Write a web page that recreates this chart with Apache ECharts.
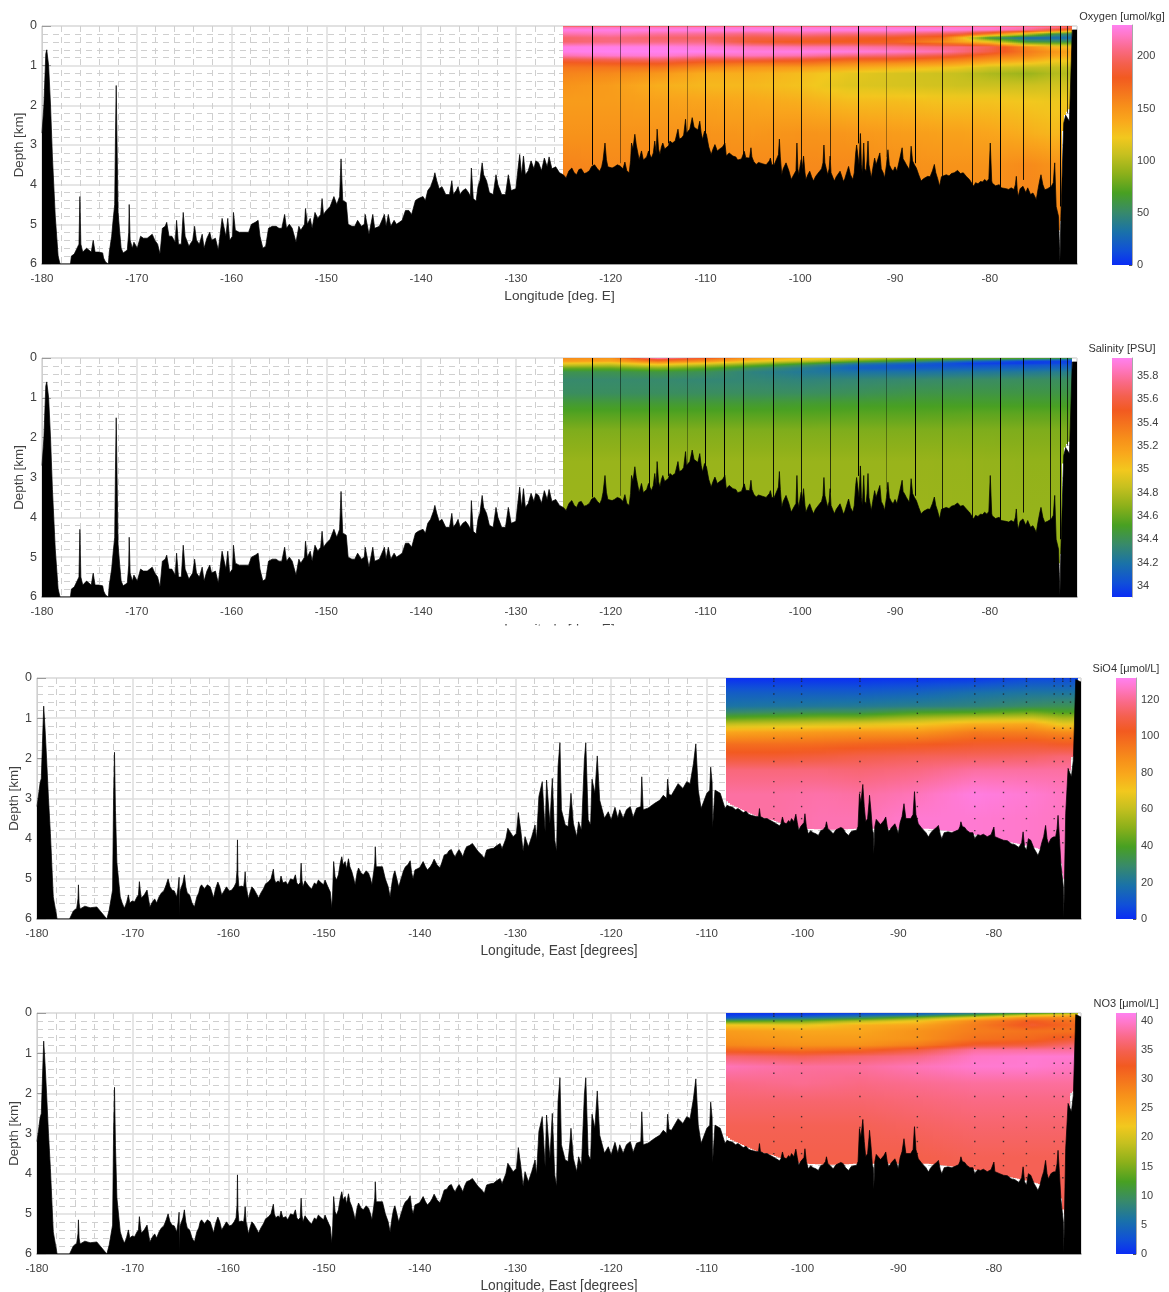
<!DOCTYPE html>
<html><head><meta charset="utf-8">
<style>html,body{margin:0;padding:0;background:#fff}#c{width:1169px;height:1292px}</style>
<script src="https://cdn.jsdelivr.net/npm/echarts@6/dist/echarts.min.js"></script>
</head><body><div id="c"></div>
<script>
// ---------- colour ramp
const rampPos = [0,.06,.14,.22,.30,.38,.46,.53,.60,.66,.78,.84,.90,.96,1];
const rampCol = ['#0a2cf5','#1050d8','#1a72a8','#388a6a','#48a022','#8cb01a','#c6c01f','#f2c81e','#f9a81c','#f7901a','#f25a20','#f4604e','#fa6a88','#ff78c8','#ff80f0'];

// ---------- bathymetry, panels 1-2: [longitude, depth km]
const bathyA = [[-180,2.7],[-179.8,2.0],[-179.6,.7],[-179.5,.6],[-179.3,1.0],[-179.1,2.0],[-178.9,3.3],[-178.6,4.8],[-178.3,5.8],[-178.1,6],[-177,6],[-176.9,5.8],[-176.6,5.75],[-176.3,5.6],[-176.1,5.5],[-176,4.3],[-175.9,5.5],[-175.7,5.7],[-175.3,5.6],[-175.1,5.65],[-174.8,5.7],[-174.7,5.75],[-174.6,5.4],[-174.4,5.7],[-174,5.7],[-173.6,5.72],[-173.5,5.85],[-173.3,5.95],[-173.15,6],[-173,6],[-172.9,5.7],[-172.65,5.3],[-172.5,4.9],[-172.33,4.5],[-172.25,2.8],[-172.17,1.5],[-172.08,3],[-171.97,4.7],[-171.8,5.2],[-171.65,5.6],[-171.44,5.72],[-171,5.65],[-170.85,5.2],[-170.8,4.5],[-170.7,5.4],[-170.47,5.6],[-170.3,5.45],[-169.95,5.6],[-169.6,5.3],[-169.3,5.35],[-168.9,5.35],[-168.37,5.25],[-168.1,5.4],[-167.8,5.5],[-167.55,5.75],[-167.3,5.1],[-167,5.05],[-166.84,4.95],[-166.6,5.3],[-166.3,5.3],[-165.95,5.45],[-165.8,4.9],[-165.6,5.5],[-165.3,5.5],[-165.1,4.7],[-164.9,5.3],[-164.5,5.55],[-164.1,5.4],[-163.9,5.05],[-163.7,5.4],[-163.4,5.5],[-163.1,5.25],[-162.9,5.6],[-162.6,5.35],[-162.3,5.2],[-162.1,5.4],[-161.7,5.35],[-161.4,5.65],[-161,4.85],[-160.8,4.8],[-160.6,5.3],[-160.4,4.85],[-160.2,5.4],[-159.9,5.3],[-159.8,4.7],[-159.6,5.15],[-159.2,5.2],[-158.8,5.2],[-158.2,5.2],[-157.9,5],[-157.5,4.95],[-157.2,4.9],[-157,5.3],[-156.7,5.6],[-156.4,5.55],[-156.1,5.1],[-155.7,5.05],[-155.3,5.05],[-155,5.1],[-154.7,5.1],[-154.4,4.75],[-154.2,5.1],[-153.9,5],[-153.6,5.1],[-153.2,5.45],[-152.9,5.05],[-152.7,5.15],[-152.3,5],[-152.2,4.6],[-152,5],[-151.7,4.85],[-151.5,5.1],[-151.2,4.7],[-150.9,4.85],[-150.6,4.75],[-150.45,4.35],[-150.3,4.75],[-150,4.65],[-149.6,4.55],[-149.2,4.3],[-148.9,4.5],[-148.6,4.3],[-148.45,3.35],[-148.27,4.4],[-147.9,4.45],[-147.7,5],[-147.3,5.05],[-147,5.05],[-146.7,4.9],[-146.3,5.05],[-146,5],[-145.9,4.75],[-145.5,5.25],[-145.1,4.75],[-144.9,5.1],[-144.4,5.05],[-143.87,4.75],[-143.7,5.05],[-143.46,4.75],[-143.2,5.05],[-142.85,4.9],[-142.6,5],[-142.3,4.95],[-142,4.9],[-141.8,4.85],[-141.65,4.65],[-141.3,4.65],[-141,4.75],[-140.6,4.4],[-140.3,4.35],[-139.8,4.3],[-139.55,4.4],[-139.3,4.15],[-139,4.05],[-138.85,4],[-138.7,3.85],[-138.55,3.7],[-138.35,3.9],[-138.1,4.1],[-137.8,4.05],[-137.4,4.25],[-137,4.25],[-136.76,3.9],[-136.6,4.25],[-136.3,4.15],[-136.1,4.05],[-135.9,4.25],[-135.6,4.15],[-135.3,4.1],[-135,4.2],[-134.8,4.3],[-134.7,3.58],[-134.5,4.35],[-134.2,4.42],[-134,4.05],[-133.8,3.9],[-133.56,3.45],[-133.4,3.75],[-133.1,3.9],[-132.8,4.2],[-132.4,4.25],[-132.1,3.75],[-131.9,4],[-131.5,4.25],[-131.1,4.25],[-130.8,3.75],[-130.5,4.15],[-130,4.1],[-129.8,3.65],[-129.6,3.24],[-129.4,3.75],[-129.2,3.28],[-129,3.75],[-128.7,3.65],[-128.4,3.4],[-128.1,3.6],[-127.9,3.4],[-127.6,3.45],[-127.3,3.65],[-127,3.33],[-126.7,3.55],[-126.5,3.3],[-126.2,3.6],[-125.8,3.55],[-125.4,3.7],[-125,3.75],[-124.7,3.83],[-124.4,3.65],[-124.1,3.58],[-123.85,3.7],[-123.6,3.75],[-123.35,3.62],[-123.1,3.6],[-122.8,3.72],[-122.55,3.7],[-122.25,3.65],[-122,3.54],[-121.85,3.58],[-121.7,3.5],[-121.4,3.6],[-121.15,3.66],[-120.95,3.55],[-120.8,3.37],[-120.6,2.95],[-120.45,3.37],[-120.3,3.55],[-120.1,3.5],[-119.85,3.58],[-119.6,3.55],[-119.3,3.5],[-119,3.53],[-118.7,3.6],[-118.5,3.43],[-118.3,3.65],[-118.05,3.7],[-117.9,3.4],[-117.8,2.95],[-117.65,3.1],[-117.45,2.73],[-117.3,3],[-117.2,3.12],[-117,3.37],[-116.75,3.15],[-116.55,3.38],[-116.4,3.41],[-116.2,3.3],[-116,3.15],[-115.85,3.25],[-115.7,3.33],[-115.5,3.2],[-115.35,2.9],[-115.2,3.2],[-115.1,2.6],[-114.95,3.1],[-114.8,3.24],[-114.65,3.05],[-114.5,2.95],[-114.3,3.1],[-114.1,3.15],[-113.9,3.02],[-113.75,2.9],[-113.5,2.95],[-113.2,2.9],[-113,2.85],[-112.9,2.6],[-112.75,2.85],[-112.5,2.82],[-112.3,2.75],[-112.1,2.35],[-112,2.7],[-111.85,2.73],[-111.65,2.6],[-111.4,2.31],[-111.2,2.55],[-111,2.6],[-110.8,2.62],[-110.6,2.4],[-110.45,2.7],[-110.3,2.86],[-110.1,2.65],[-109.9,2.73],[-109.65,3.05],[-109.4,3.24],[-109.2,3.1],[-109,2.99],[-108.75,3.15],[-108.5,3.1],[-108.2,3.05],[-107.95,2.95],[-107.8,3.28],[-107.5,3.2],[-107.1,3.28],[-106.8,3.3],[-106.6,3.38],[-106.4,3.41],[-106.2,3.35],[-106,3.3],[-105.9,3.16],[-105.75,3.32],[-105.6,3.37],[-105.35,3.33],[-105.25,3.28],[-105.2,3.07],[-105.1,3.3],[-104.9,3.42],[-104.65,3.49],[-104.4,3.44],[-104.2,3.48],[-104,3.47],[-103.8,3.45],[-103.6,3.5],[-103.4,3.48],[-103.25,3.4],[-103.15,3.33],[-103,3.5],[-102.95,3.54],[-102.75,3.5],[-102.6,3.5],[-102.4,3.3],[-102.3,3.24],[-102.2,2.85],[-102.1,3.3],[-101.95,3.75],[-101.8,3.6],[-101.6,3.55],[-101.5,3.45],[-101.35,3.55],[-101.2,3.65],[-100.95,3.87],[-100.8,3.8],[-100.6,3.75],[-100.45,3.65],[-100.35,2.95],[-100.25,3.6],[-100.15,3.75],[-100,3.5],[-99.9,3.37],[-99.8,3.6],[-99.65,3.28],[-99.5,3.7],[-99.4,3.87],[-99.2,3.75],[-99,3.66],[-98.8,3.8],[-98.6,3.91],[-98.4,3.8],[-98.15,3.72],[-97.95,3.66],[-97.75,3.6],[-97.6,3.45],[-97.5,3],[-97.4,3.45],[-97.25,3.6],[-97.1,3.75],[-96.95,3.6],[-96.85,3.28],[-96.75,3.7],[-96.55,3.82],[-96.4,3.91],[-96.2,3.8],[-96,3.85],[-95.8,3.66],[-95.6,3.8],[-95.45,3.92],[-95.3,3.85],[-95.1,3.8],[-94.9,3.54],[-94.7,3.75],[-94.45,3.87],[-94.3,3.7],[-94.15,3.2],[-94.05,3],[-93.9,2.95],[-93.8,3.5],[-93.65,2.71],[-93.55,3.5],[-93.45,3.7],[-93.3,2.95],[-93.2,3.6],[-93.05,3.66],[-92.95,3.4],[-92.85,2.9],[-92.75,3.5],[-92.6,3.7],[-92.5,3.83],[-92.35,3.6],[-92.15,3.33],[-92,3.5],[-91.85,3.45],[-91.6,3.2],[-91.45,3.6],[-91.25,3.7],[-91.1,3.83],[-90.9,3.5],[-90.75,3.12],[-90.6,3.5],[-90.4,3.6],[-90.2,3.66],[-90,3.55],[-89.8,3.66],[-89.6,3.45],[-89.4,3.4],[-89.25,3.07],[-89.15,3.35],[-89,3.41],[-88.8,3.5],[-88.5,3.62],[-88.4,3.4],[-88.3,3.03],[-88.15,3.4],[-87.95,3.5],[-87.75,3.58],[-87.5,3.75],[-87.25,3.91],[-87,3.85],[-86.8,3.87],[-86.55,3.79],[-86.3,3.8],[-86.05,3.65],[-85.85,3.49],[-85.7,3.7],[-85.5,3.85],[-85.3,4.04],[-85.1,3.8],[-84.9,3.85],[-84.6,3.75],[-84.3,3.78],[-84.05,3.72],[-83.75,3.7],[-83.4,3.64],[-83.1,3.72],[-82.8,3.7],[-82.45,3.8],[-82.15,3.87],[-81.95,3.9],[-81.7,4.04],[-81.5,3.95],[-81.25,3.98],[-81,3.92],[-80.75,3.93],[-80.55,3.87],[-80.3,3.92],[-80.1,3.85],[-79.95,2.95],[-79.8,3.9],[-79.75,3.96],[-79.4,4.03],[-79,4],[-78.8,4.08],[-78.65,4.13],[-78.3,4.1],[-78,4.12],[-77.75,4.08],[-77.45,4.12],[-77.3,4],[-77.2,3.79],[-77.1,4.15],[-77,4.3],[-76.8,4.1],[-76.5,4.04],[-76.2,4.2],[-76,4.08],[-75.7,4.25],[-75.45,4.21],[-75.25,4.3],[-75.1,4.38],[-74.9,4.1],[-74.7,3.85],[-74.6,3.75],[-74.4,4],[-74.2,4.13],[-73.9,4.1],[-73.5,4.04],[-73.3,3.95],[-73.15,3.45],[-73,4.55],[-72.75,4.8],[-72.6,5.95],[-72.55,5.95],[-72.5,4.8],[-72.3,3.2],[-72.2,2.45],[-72,2.25],[-71.9,2.2],[-71.6,2.4],[-71.4,2.35],[-71.3,.1],[-71.1,.05],[-70.8,.1]];

// ---------- bathymetry, panels 3-4
const bathyB = [[-180,3.2],[-179.67,2.6],[-179.55,2.5],[-179.4,1.4],[-179.3,.7],[-179.15,1.3],[-179,2],[-178.8,3],[-178.6,3.87],[-178.3,5.45],[-177.9,6],[-176.6,6],[-176.2,5.8],[-175.85,5.73],[-175.72,5.5],[-175.67,5.15],[-175.6,5.6],[-175.5,5.75],[-175,5.68],[-174.45,5.72],[-173.75,5.7],[-173.4,5.8],[-173.05,5.9],[-172.7,6],[-172.45,5.77],[-172.1,5.28],[-172,3],[-171.9,1.85],[-171.8,3.3],[-171.65,4.6],[-171.3,5.45],[-171.1,5.6],[-170.87,5.73],[-170.65,5.6],[-170.45,5.4],[-170.3,5.6],[-170.05,5.55],[-169.8,5.57],[-169.55,5.45],[-169.4,5.4],[-169.3,5.07],[-169.2,5.3],[-169.1,5.48],[-168.8,5.4],[-168.65,5.42],[-168.5,5.28],[-168.35,5.5],[-168.2,5.7],[-168,5.6],[-167.85,5.57],[-167.7,5.5],[-167.5,5.6],[-167.25,5.45],[-167,5.35],[-166.75,5.3],[-166.5,5.15],[-166.3,5],[-166.1,5.2],[-165.9,5.28],[-165.65,5.3],[-165.4,5.45],[-165.25,5.2],[-165.15,4.96],[-165.1,5.95],[-165.05,5.3],[-164.95,5.28],[-164.75,5.1],[-164.6,4.9],[-164.45,5.2],[-164.3,5.35],[-164.05,5.4],[-163.8,5.6],[-163.55,5.7],[-163.3,5.45],[-163.1,5.35],[-162.95,5.2],[-162.8,5.15],[-162.5,5.25],[-162.2,5.15],[-161.9,5.2],[-161.7,5.35],[-161.55,5.48],[-161.35,5.25],[-161.1,5.08],[-160.9,5.2],[-160.7,5.4],[-160.45,5.3],[-160.2,5.2],[-159.9,5.3],[-159.65,5.28],[-159.4,5.2],[-159.2,5.1],[-159.1,4.8],[-159.05,4.03],[-159,4.9],[-158.9,5.2],[-158.65,5.18],[-158.4,5.2],[-158.3,5],[-158.25,4.82],[-158.15,5.2],[-157.9,5.5],[-157.75,5.35],[-157.55,5.2],[-157.35,5.25],[-157.2,5.28],[-157,5.4],[-156.85,5.48],[-156.6,5.35],[-156.35,5.25],[-156.1,5.12],[-155.8,5.07],[-155.55,5],[-155.4,5],[-155.3,4.76],[-155.2,5],[-155.05,5.1],[-154.8,5.05],[-154.65,5.1],[-154.5,4.93],[-154.3,5.1],[-154,5.07],[-153.8,5.15],[-153.5,5],[-153.2,5.03],[-153,4.9],[-152.85,5.1],[-152.7,5.15],[-152.5,5.1],[-152.4,4.61],[-152.3,5.05],[-152.2,5.2],[-152,5.05],[-151.8,5.03],[-151.55,5.2],[-151.3,5.25],[-151,5.1],[-150.8,5.15],[-150.6,5.03],[-150.3,5.1],[-150.05,5.15],[-149.9,5.03],[-149.6,5.2],[-149.35,5.33],[-149.25,5.35],[-149.2,5.73],[-149.1,5.3],[-149,4.57],[-148.85,4.95],[-148.7,5.03],[-148.5,4.9],[-148.3,4.6],[-148.15,4.45],[-148,4.65],[-147.8,4.57],[-147.65,4.75],[-147.45,4.5],[-147.3,4.7],[-147.1,4.82],[-146.9,5],[-146.75,5.15],[-146.55,4.85],[-146.4,4.73],[-146.15,4.85],[-145.9,4.9],[-145.6,4.8],[-145.35,4.86],[-145.15,5],[-145,5.15],[-144.8,4.8],[-144.7,4.6],[-144.65,4.2],[-144.55,4.7],[-144.4,4.7],[-143.9,4.7],[-143.6,5],[-143.3,5.2],[-143.1,5.45],[-142.9,5.1],[-142.75,4.9],[-142.6,4.8],[-142.4,5],[-142.2,5.2],[-141.95,5],[-141.7,4.8],[-141.5,4.7],[-141.25,4.65],[-141,4.55],[-140.85,4.85],[-140.7,5],[-140.5,4.78],[-140.25,4.75],[-140,4.72],[-139.65,4.57],[-139.4,4.7],[-139.2,4.78],[-138.9,4.7],[-138.7,4.62],[-138.5,4.51],[-138.2,4.65],[-137.9,4.73],[-137.7,4.6],[-137.45,4.41],[-137.15,4.38],[-136.95,4.3],[-136.7,4.27],[-136.5,4.38],[-136.3,4.45],[-136.1,4.35],[-135.9,4.27],[-135.7,4.35],[-135.5,4.45],[-135.3,4.3],[-135.1,4.2],[-134.8,4.17],[-134.5,4.12],[-134.2,4.22],[-133.9,4.32],[-133.55,4.4],[-133.25,4.49],[-133.1,4.35],[-133,4.28],[-132.6,4.25],[-132.3,4.24],[-132,4.18],[-131.6,4.12],[-131.4,4.25],[-131.2,4.28],[-131,4],[-130.8,3.74],[-130.5,3.85],[-130.25,3.95],[-129.9,3.87],[-129.7,3.35],[-129.45,3.79],[-129.2,4.32],[-129,3.95],[-128.65,4.2],[-128.3,3.95],[-127.95,3.66],[-127.8,4.03],[-127.55,2.95],[-127.2,2.58],[-126.9,3.83],[-126.75,2.54],[-126.4,3.62],[-126.15,2.5],[-125.9,4.03],[-125.7,4.32],[-125.55,2.21],[-125.35,1.61],[-125.2,3.28],[-124.8,3.66],[-124.5,3.7],[-124.3,3.2],[-124.2,2.87],[-123.95,3.62],[-123.6,3.95],[-123.4,3.58],[-123.1,3.79],[-122.8,2.04],[-122.65,1.61],[-122.4,3.53],[-122.15,3.66],[-122,2.52],[-121.7,2.87],[-121.45,1.94],[-121.2,3.04],[-121,3.04],[-120.7,3.49],[-120.3,3.33],[-120,3.53],[-119.6,3.22],[-119.3,3.49],[-119.1,3.28],[-118.75,3.49],[-118.4,3.28],[-118,3.2],[-117.7,3.47],[-117.35,3.24],[-116.9,3.2],[-116.8,2.46],[-116.65,3.28],[-116.15,3.24],[-115.45,3.12],[-114.9,3.04],[-114.55,2.92],[-114.2,3],[-114.1,2.52],[-113.95,2.9],[-113.7,2.92],[-113,2.63],[-112.5,2.75],[-112.1,2.58],[-111.75,2.63],[-111.4,2.13],[-111.15,1.64],[-110.9,2.79],[-110.6,3.25],[-110,2.87],[-109.7,2.8],[-109.6,2.22],[-109.45,2.6],[-109.4,3.74],[-109.15,2.79],[-108.6,2.87],[-108.1,3.25],[-107.9,3.17],[-107.6,3.2],[-107.3,3.22],[-107,3.28],[-106.75,3.25],[-106.5,3.29],[-106.2,3.35],[-105.9,3.32],[-105.6,3.4],[-105.35,3.42],[-105.15,3.46],[-104.85,3.45],[-104.6,3.45],[-104.5,3.25],[-104.4,3.45],[-104.3,3.46],[-104,3.5],[-103.7,3.5],[-103.4,3.54],[-103.1,3.58],[-102.8,3.62],[-102.6,3.62],[-102.4,3.68],[-102.25,3.62],[-102.1,3.46],[-101.95,3.6],[-101.7,3.63],[-101.45,3.55],[-101.3,3.6],[-101.15,3.5],[-100.9,3.58],[-100.7,3.39],[-100.55,3.6],[-100.4,3.79],[-100.2,3.7],[-100,3.72],[-99.85,3.6],[-99.75,3.38],[-99.6,3.7],[-99.4,3.88],[-99.15,3.8],[-98.9,3.85],[-98.6,3.88],[-98.35,3.92],[-98.1,3.8],[-97.85,3.78],[-97.6,3.7],[-97.5,3.58],[-97.35,3.75],[-97.1,3.8],[-96.8,3.88],[-96.5,3.78],[-96.3,3.82],[-96,3.72],[-95.75,3.75],[-95.5,3.85],[-95.2,3.92],[-94.9,3.82],[-94.6,3.8],[-94.35,3.79],[-94.2,3.7],[-94.05,2.88],[-93.9,3.1],[-93.7,2.65],[-93.55,3.2],[-93.4,3.58],[-93.2,3.5],[-93.05,3.1],[-93,2.92],[-92.85,3.3],[-92.7,3.79],[-92.6,3.85],[-92.55,4.38],[-92.45,3.7],[-92.3,3.52],[-92.1,3.55],[-91.85,3.65],[-91.75,3.67],[-91.5,3.55],[-91.3,3.46],[-91.15,3.7],[-91,3.83],[-90.7,3.72],[-90.5,3.7],[-90.35,3.63],[-90.15,3.75],[-90,3.88],[-89.8,3.6],[-89.6,3.45],[-89.4,3.13],[-89.2,3.5],[-89,3.54],[-88.7,3.5],[-88.45,3.4],[-88.3,2.83],[-88.15,3.4],[-87.9,3.63],[-87.6,3.72],[-87.3,3.8],[-87.1,3.85],[-86.85,3.96],[-86.6,3.85],[-86.3,3.78],[-86,3.72],[-85.8,3.67],[-85.6,3.9],[-85.45,4],[-85.2,3.85],[-84.8,3.83],[-84.4,3.85],[-84,3.81],[-83.7,3.78],[-83.55,3.7],[-83.45,3.58],[-83.3,3.7],[-83.05,3.72],[-82.85,3.79],[-82.5,3.85],[-82.2,3.85],[-82,4],[-81.7,3.9],[-81.4,3.92],[-81.1,3.89],[-80.7,3.95],[-80.3,3.9],[-80.1,3.88],[-80,3.71],[-79.9,3.95],[-79.75,3.96],[-79.4,4],[-79,4.04],[-78.6,4.05],[-78.15,4.13],[-77.8,4.15],[-77.4,4.22],[-77.1,4.1],[-76.95,3.83],[-76.8,4.2],[-76.6,4.29],[-76.4,4],[-76.15,4.04],[-75.8,4.25],[-75.55,4.35],[-75.4,4.42],[-75.2,4.3],[-75,4.1],[-74.8,3.95],[-74.6,3.67],[-74.45,4],[-74.3,4.13],[-74.05,4],[-73.8,3.96],[-73.55,3.95],[-73.4,3.75],[-73.3,3.42],[-73.15,4],[-73,4.63],[-72.75,5.2],[-72.7,5.96],[-72.6,5.96],[-72.5,3.38],[-72.25,2.25],[-71.9,2.46],[-71.7,2.04],[-71.45,.04],[-70.9,.1]];

// ---------- lower limit of the coloured section
const floorA = [[-125,3.8],[-124.4,3.85],[-124.3,6],[-73,6],[-72.75,5.15],[-72.5,5.15],[-72.4,3.2],[-72.2,2.3],[-71.7,2.1],[-71.3,2.1]];
const floorB = [[-108,3.05],[-107.5,3.15],[-105,3.42],[-103,3.55],[-102.4,3.6],[-100,3.75],[-97,3.78],[-94,3.75],[-90,3.75],[-87,3.75],[-85,3.8],[-82,3.9],[-79,4.05],[-76,4.2],[-73.5,4.4],[-73,4.6],[-72.7,5],[-72.5,5],[-72,2],[-71.7,1.95],[-71.2,1.9]];

// ---------- stations
const stationLonA = [-122,-119,-116,-114,-111.9,-110,-108,-106,-102.9,-99.9,-96.9,-93.9,-90.9,-87.9,-85,-81.9,-78.9,-76.5,-73.7,-72.6,-71.9];
const stationEndA = [3.5,3.46,3.29,2.96,2.66,2.96,3.1,3.25,3.5,3.55,3.38,2.96,3.3,3.46,3.8,4,4.1,3.88,4.13,4.55,2.2];
const stationAlphaA = [1,.45,1,1,.35,1,1,.85,.9,.85,.7,1,.35,1,.8,.9,1,.9,.8,1,.7];
const stationLonB = [-103,-100.1,-94,-88,-82,-79,-76.6,-73.7,-72.8,-72];
const stationEndB = [3.5,3.7,3.7,3.7,3.9,4,4.1,4.3,4.6,1.9];
const sampleDepths = [.02,.08,.2,.4,.6,.88,1.25,1.5,2.08,2.58,2.85,3.2,3.5,3.8,4.1];

// ---------- Oxygen [umol/kg]
const oxyLons = [-125,-120,-115,-110,-105,-100,-95,-90,-85,-83,-80,-76,-73,-71.3];
const oxyDepths = [0,.03,.1,.2,.3,.4,.53,.65,.75,.85,.95,1.05,1.2,1.5,1.9,2.7,3.5,6];
const oxyValues = [
[190,215,228,215,200,200,228,228,215,190,175,165,158,150,145,150,158,165],
[190,218,228,218,205,205,228,230,222,195,178,165,155,145,145,150,155,165],
[190,218,228,212,200,205,228,230,224,200,180,165,148,135,142,150,155,165],
[190,220,228,210,198,205,224,230,215,190,170,155,135,130,140,150,155,165],
[190,222,228,205,190,185,218,226,218,190,165,148,135,130,138,148,155,165],
[190,222,228,210,190,178,215,228,215,185,165,145,128,125,135,150,155,165],
[190,222,228,205,185,178,215,226,205,175,155,138,118,115,128,148,155,165],
[190,222,228,205,180,175,210,222,200,175,150,132,112,112,128,145,152,165],
[190,222,228,195,170,155,205,215,190,165,145,125,108,110,125,142,150,160],
[190,222,225,190,130,140,205,205,182,160,140,120,105,108,125,142,150,160],
[190,222,222,165,62,120,195,190,168,150,130,110,98,108,125,140,150,160],
[190,218,210,110,28,62,155,162,155,140,122,105,92,108,122,135,155,160],
[190,210,185,60,28,58,130,148,140,125,115,105,100,110,120,130,150,160],
[175,200,160,50,30,60,128,140,135,125,115,105,100,110,122,135,150,160]];

// ---------- Salinity [PSU]
const salLons = [-125,-120,-115,-110,-105,-100,-94,-88,-82,-76,-71.3];
const salDepths = [0,.03,.08,.13,.18,.25,.35,.55,.88,1.13,1.4,1.8,2.6,6];
const salValues = [
[35.3,35.25,35.2,35.0,34.85,34.62,34.42,34.35,34.38,34.47,34.55,34.65,34.72,34.74],
[35.25,35.2,35.15,34.95,34.8,34.6,34.42,34.35,34.38,34.47,34.55,34.65,34.72,34.74],
[35.9,35.6,35.4,35.15,34.95,34.7,34.45,34.35,34.38,34.47,34.55,34.65,34.72,34.74],
[35.55,35.4,35.25,35.0,34.8,34.58,34.4,34.33,34.38,34.47,34.55,34.65,34.72,34.74],
[35.2,35.15,35.0,34.8,34.6,34.4,34.3,34.33,34.38,34.47,34.55,34.65,34.72,34.74],
[35.05,35.02,34.85,34.6,34.4,34.28,34.24,34.31,34.38,34.48,34.55,34.65,34.72,34.74],
[34.95,34.8,34.6,34.3,34.15,34.1,34.2,34.33,34.4,34.49,34.56,34.65,34.72,34.74],
[34.8,34.6,34.4,34.15,34.05,34.08,34.2,34.35,34.43,34.5,34.56,34.65,34.72,34.74],
[34.7,34.45,34.15,33.97,34.02,34.1,34.22,34.37,34.44,34.5,34.57,34.65,34.71,34.74],
[34.6,34.35,33.98,33.95,34.05,34.12,34.24,34.38,34.44,34.5,34.57,34.65,34.7,34.74],
[34.55,34.2,33.98,34.0,34.08,34.15,34.27,34.38,34.44,34.5,34.57,34.65,34.7,34.74]];

// ---------- SiO4 [umol/L]
const sioLons = [-108,-103,-98,-94,-88,-82,-76,-72.8,-71.2];
const sioDepths = [0,.05,.37,.7,.85,1,1.15,1.35,1.65,1.95,2.3,2.9,3.5,6];
const sioValues = [
[1,2,12,19,28,42,60,80,97,106,117,122,122,122],
[1,2,12,20,30,45,62,82,97,106,117,122,122,122],
[1,2,12,21,32,48,64,84,98,108,117,123,124,124],
[1,2,12,22,32,48,66,85,100,110,116,122,124,124],
[1,3,14,24,38,55,70,85,102,112,118,125,128,128],
[2,4,18,26,40,60,78,93,105,113,122,130,128,128],
[4,8,20,30,45,62,80,92,106,114,122,128,127,127],
[4,8,20,32,40,55,68,88,104,116,122,126,126,126],
[4,8,20,32,40,55,68,88,104,116,122,126,126,126]];

// ---------- NO3 [umol/L]
const noLons = [-108,-100,-94,-88,-82,-76,-72,-71.2];
const noDepths = [0,.05,.12,.2,.3,.45,.65,.8,.92,1.08,1.33,1.75,2.2,2.8,3.6,6];
const noValues = [
[.5,1,3,12,22,26,27,28,31,36,39,37,36,35,34.5,34.5],
[.5,1.5,6,14,21,25,26,27,30,35,38,37.5,36,35,34.5,34.5],
[1,4,9,18,24,25,26,27,31,36,38,37,36,35,34.5,34.5],
[3,6,15,22,25,27,27,29,34,37,39,37.5,36.5,35.5,34.5,34.5],
[7,12,22,28,29,29,30,33,38,39.5,40,38,37,36,35,35],
[10,20,28,32,33,30,31,34,38,40,40,38,37,36,35,35],
[15,24,28,30,31,30,33,36,38,40,39.5,38,37,36,35,35],
[15,24,28,30,31,30,33,36,38,40,39.5,38,37,36,35,35]];

// ---------- tick labels
const cbTicks = [
 [0,50,100,150,200],
 [34,34.2,34.4,34.6,34.8,35,35.2,35.4,35.6,35.8],
 [0,20,40,60,80,100,120],
 [0,5,10,15,20,25,30,35,40]];

const FONT = '"Liberation Sans", Arial, sans-serif';
const rgb = rampCol.map(c => [parseInt(c.slice(1,3),16),parseInt(c.slice(3,5),16),parseInt(c.slice(5,7),16)]);
function ramp(t){
  t = Math.max(0,Math.min(1,t));
  let i = 0; while(i < rampPos.length-2 && t > rampPos[i+1]) i++;
  const f = (t-rampPos[i])/(rampPos[i+1]-rampPos[i]);
  const a = rgb[i], b = rgb[i+1];
  return 'rgb('+Math.round(a[0]+(b[0]-a[0])*f)+','+Math.round(a[1]+(b[1]-a[1])*f)+','+Math.round(a[2]+(b[2]-a[2])*f)+')';
}
function interp(list, x){
  if(x <= list[0][0]) return list[0][1];
  for(let i=1;i<list.length;i++) if(x <= list[i][0]){
    const a=list[i-1], b=list[i];
    return a[1]+(b[1]-a[1])*(x-a[0])/(b[0]-a[0]);
  }
  return list[list.length-1][1];
}

const panels = [
 {top:26, bottom:264, left:42, right:1077, xmax:-70.8, xname:'Longitude [deg. E]', nameFont:13.6, bathy:bathyA, floor:floorA,
  lons:oxyLons, depths:oxyDepths, values:oxyValues, vmin:0, vmax:230, ticks:cbTicks[0], cbx:1112, cbt:25, cbb:265, title:'Oxygen [umol/kg]', titleY:6, line:true},
 {top:358, bottom:597, left:42, right:1077, xmax:-70.8, xname:'Longitude [deg. E]', nameFont:13.6, bathy:bathyA, floor:floorA,
  lons:salLons, depths:salDepths, values:salValues, vmin:33.905, vmax:35.955, ticks:cbTicks[1], cbx:1112, cbt:358, cbb:597, title:'Salinity [PSU]', titleY:338, line:true},
 {top:678, bottom:919, left:37, right:1081, xmax:-70.9, xname:'Longitude, East [degrees]', nameFont:13.8, bathy:bathyB, floor:floorB,
  lons:sioLons, depths:sioDepths, values:sioValues, vmin:0, vmax:132, ticks:cbTicks[2], cbx:1116, cbt:678, cbb:919, title:'SiO4 [\u03bcmol/L]', titleY:658, line:false},
 {top:1013, bottom:1254, left:37, right:1081, xmax:-70.9, xname:'Longitude, East [degrees]', nameFont:13.8, bathy:bathyB, floor:floorB,
  lons:noLons, depths:noDepths, values:noValues, vmin:0, vmax:41.3, ticks:cbTicks[3], cbx:1116, cbt:1013, cbb:1254, title:'NO3 [\u03bcmol/L]', titleY:993, line:false}
];

const grid=[], xAxis=[], yAxis=[], series=[], title=[];
panels.forEach((p,k)=>{
  const gi = k*2, ci = k*2+1;
  grid.push({left:p.left, top:p.top, width:p.right-p.left, height:p.bottom-p.top, show:true, borderColor:'#d4d4d4', borderWidth:1, backgroundColor:'#fff', outerBoundsMode:'none'});
  grid.push({left:p.cbx, top:p.cbt, width:20, height:p.cbb-p.cbt, show:false, outerBoundsMode:'none'});
  xAxis.push({gridIndex:gi, type:'value', min:-180, max:p.xmax, interval:10, splitNumber:10,
    axisLine:{show:true,onZero:false,lineStyle:{color:'#8c8c8c',width:1.5}},
    axisTick:{show:false},
    axisLabel:{fontFamily:FONT,fontSize:11.5,color:'#404040',margin:9,showMaxLabel:false,hideOverlap:false},
    name:p.xname, nameLocation:'middle', nameGap:25, nameTextStyle:{fontFamily:FONT,fontSize:p.nameFont,color:'#404040'},
    splitLine:{show:true,lineStyle:{color:'#dedede',width:1.5}},
    minorTick:{show:false,splitNumber:5},
    minorSplitLine:{show:true,lineStyle:{color:'#cfcfcf',type:[6,5],width:1}}});
  xAxis.push({gridIndex:ci, type:'value', min:0, max:1, show:false});
  yAxis.push({gridIndex:gi, type:'value', min:0, max:6, interval:1, inverse:true,
    axisLine:{show:true,onZero:false,lineStyle:{color:'#cfcfcf'}},
    axisTick:{show:true,inside:true,length:9,lineStyle:{color:'#9a9a9a'}},
    axisLabel:{fontFamily:FONT,fontSize:12.5,color:'#404040',margin:5,padding:[2,0,0,0]},
    name:'Depth [km]', nameLocation:'middle', nameGap:16, nameMoveOverlap:false, nameRotate:90, nameTextStyle:{fontFamily:FONT,fontSize:13.4,color:'#404040'},
    splitLine:{show:true,lineStyle:{color:'#dedede',width:1.5}},
    minorTick:{show:false,splitNumber:5},
    minorSplitLine:{show:true,lineStyle:{color:'#cfcfcf',type:[6,5],width:1}}});
  yAxis.push({gridIndex:ci, type:'value', min:p.vmin, max:p.vmax, position:'right',
    axisLine:{show:true,onZero:false,lineStyle:{color:'#a8a8a8'}},
    axisTick:{show:true,inside:true,length:3,customValues:p.ticks,lineStyle:{color:'#555'}},
    axisLabel:{fontFamily:FONT,fontSize:11,color:'#404040',margin:5,customValues:p.ticks},
    splitLine:{show:false}});
  title.push({text:p.title, left:p.cbx+10-5, top:p.titleY, textAlign:'center',
    textStyle:{fontFamily:FONT,fontSize:11,fontWeight:'normal',color:'#333'}});

  // coloured section
  const colData = p.lons.slice(0,-1).map((l,i)=>[l,p.lons[i+1],0,6]);
  series.push({type:'custom', xAxisIndex:gi, yAxisIndex:gi, z:2, silent:true, clip:true,
    encode:{x:[0,1],y:[2,3]}, data:colData,
    renderItem:(params,api)=>{
      const i = params.dataIndex;
      const a = api.value(0), b = api.value(1);
      const xa = api.coord([a,0])[0], xb = api.coord([b,0])[0];
      const y0 = api.coord([a,0])[1], y6 = api.coord([a,6])[1];
      const children = [];
      for(let px=Math.round(xa); px<Math.round(xb); px+=2){
        const f = Math.max(0,Math.min(1,(px+1-xa)/(xb-xa)));
        const lon = a+(b-a)*f;
        const stops = [];
        for(let r=0;r<p.depths.length-1;r++){
          const v0 = p.values[i][r]+(p.values[i+1][r]-p.values[i][r])*f;
          const v1 = p.values[i][r+1]+(p.values[i+1][r+1]-p.values[i][r+1])*f;
          for(let s=0;s<3;s++){
            const q = s/3;
            stops.push({offset:(p.depths[r]+(p.depths[r+1]-p.depths[r])*q)/6,
              color:ramp((v0+(v1-v0)*q-p.vmin)/(p.vmax-p.vmin))});
          }
          if(r===p.depths.length-2) stops.push({offset:1,color:ramp((v1-p.vmin)/(p.vmax-p.vmin))});
        }
        const yF = api.coord([lon,interp(p.floor,lon)])[1];
        children.push({type:'rect', shape:{x:px,y:y0,width:Math.min(2,Math.round(xb)-px),height:yF-y0},
          style:{fill:new echarts.graphic.LinearGradient(0,y0,0,y6,stops,true)}});
      }
      return {type:'group',children};
    }});

  // stations
  if(p.line){
    series.push({type:'custom', xAxisIndex:gi, yAxisIndex:gi, z:3, silent:true,
      encode:{x:0,y:[1,2]},
      data:stationLonA.map((l,i)=>[l,0,stationEndA[i],stationAlphaA[i]]),
      renderItem:(params,api)=>{
        const s=api.coord([api.value(0),api.value(1)]), e=api.coord([api.value(0),api.value(2)]);
        const x=Math.round(s[0])+.5;
        return {type:'line',shape:{x1:x,y1:s[1],x2:x,y2:e[1]},style:{stroke:'rgba(0,0,0,'+api.value(3)+')',lineWidth:1}};
      }});
  } else {
    const dots=[];
    stationLonB.forEach((l,i)=>sampleDepths.forEach(d=>{ if(d<=stationEndB[i]) dots.push([l,d]); }));
    series.push({type:'scatter', xAxisIndex:gi, yAxisIndex:gi, z:3, silent:true, data:dots,
      symbol:'rect', symbolSize:1.4, itemStyle:{color:'#222'}});
  }

  // bathymetry
  series.push({type:'line', xAxisIndex:gi, yAxisIndex:gi, z:4, silent:true, data:p.bathy, showSymbol:false, sampling:'none', smooth:false,
    lineStyle:{color:'#000',width:.7}, areaStyle:{color:'#000',opacity:1,origin:'end'}});

  // colour bar
  series.push({type:'custom', xAxisIndex:ci, yAxisIndex:ci, z:2, silent:true,
    encode:{x:[0,1],y:[2,3]}, data:[[0,1,p.vmin,p.vmax]],
    renderItem:(params,api)=>{
      const s=api.coord([0,api.value(3)]), e=api.coord([1,api.value(2)]);
      return {type:'rect',shape:{x:s[0],y:s[1],width:e[0]-s[0],height:e[1]-s[1]},
        style:{fill:new echarts.graphic.LinearGradient(0,1,0,0,rampPos.map((o,i)=>({offset:o,color:rampCol[i]})))}};
    }});
});

const chart = echarts.init(document.getElementById('c'),null,{renderer:'canvas',width:1169,height:1292});
chart.setOption({animation:false, backgroundColor:'#fff', tooltip:{show:false}, title, grid, xAxis, yAxis, series,
  graphic:[{type:'rect',z:100,silent:true,shape:{x:470,y:625.5,width:180,height:30},style:{fill:'#fff'}}]});
</script></body></html>
